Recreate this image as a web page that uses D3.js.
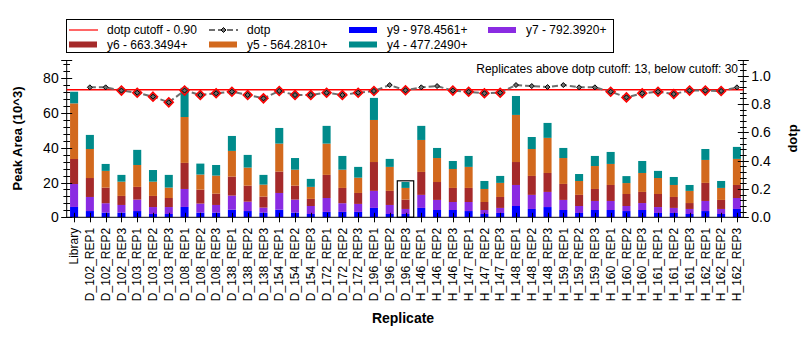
<!DOCTYPE html>
<html><head><meta charset="utf-8">
<script src="https://cdn.jsdelivr.net/npm/d3@7"></script>
<style>body{margin:0;background:#fff}svg{display:block;font-family:Arial,"Liberation Sans",sans-serif}</style>
</head><body><svg id="c" width="812" height="339"></svg>
<script>
const categories = ["Library",
 "D_102_REP1","D_102_REP2","D_102_REP3","D_103_REP1","D_103_REP2","D_103_REP3",
 "D_108_REP1","D_108_REP2","D_108_REP3","D_138_REP1","D_138_REP2","D_138_REP3",
 "D_154_REP1","D_154_REP2","D_154_REP3","D_172_REP1","D_172_REP2","D_172_REP3",
 "D_196_REP1","D_196_REP2","D_196_REP3","H_146_REP1","H_146_REP2","H_146_REP3",
 "H_147_REP1","H_147_REP2","H_147_REP3","H_148_REP1","H_148_REP2","H_148_REP3",
 "H_159_REP1","H_159_REP2","H_159_REP3","H_160_REP1","H_160_REP2","H_160_REP3",
 "H_161_REP1","H_161_REP2","H_161_REP3","H_162_REP1","H_162_REP2","H_162_REP3"];
const y9 = [5.95,3.6,2.7,2.7,3.6,1.9,1.9,5.95,2.7,2.7,4.4,3.6,2.7,4.4,2.7,1.9,3.1,3.1,3.1,5.4,1.9,1.9,5.4,4.2,4.2,3.6,1.9,2.5,6.5,4.8,5.9,4.2,2.5,4.2,4.2,3.6,4.2,2.5,2.5,1.9,3.6,1.9,4.8];
const y7 = [13.2,8.1,5.4,4.4,6.6,4.0,4.0,10.35,5.2,4.4,8.1,5.4,2.9,9.6,7.5,4.6,8.0,5.0,4.6,9.8,5.2,2.9,7.5,5.8,4.6,5.2,2.3,2.9,12.1,8.1,8.7,5.8,4.0,5.2,5.2,2.9,4.0,3.4,2.9,2.9,5.8,2.9,6.3];
const y6 = [14.4,10.9,9.0,5.2,7.3,6.4,5.2,15.0,8.0,6.5,10.9,9.2,6.3,12.3,8.0,4.1,13.3,8.8,6.3,16.6,8.1,5.4,13.2,10.3,8.1,8.1,4.6,6.3,13.2,10.9,10.9,9.2,6.4,6.9,9.2,6.9,6.4,7.5,6.3,3.4,10.4,5.2,7.5];
const y5 = [32.0,16.7,9.6,8.2,12.6,8.2,6.0,26.4,8.7,10.4,14.8,10.4,6.9,16.1,9.2,6.9,18.0,10.5,8.8,24.2,13.8,6.7,18.4,13.8,10.9,12.1,7.5,8.1,27.1,15.5,20.2,14.9,8.0,13.2,12.1,6.3,10.9,9.2,6.9,7.0,13.2,6.9,15.0];
const y4 = [6.7,8.1,4.0,3.9,8.7,6.7,7.3,16.8,6.3,6.1,8.6,7.3,5.6,9.0,6.7,4.6,10.2,7.9,6.2,12.7,4.6,3.4,8.1,5.8,4.6,6.3,4.6,4.0,10.9,6.9,8.6,5.8,4.0,5.8,6.9,4.0,6.9,4.1,4.6,3.4,6.3,4.0,6.9];
const dotp = [null,0.918,0.918,0.895,0.88,0.852,0.812,0.895,0.864,0.876,0.887,0.864,0.84,0.892,0.864,0.864,0.88,0.864,0.88,0.892,0.934,0.897,0.918,0.927,0.895,0.887,0.876,0.88,0.934,0.927,0.92,0.934,0.918,0.918,0.887,0.847,0.876,0.887,0.871,0.895,0.895,0.892,0.918];
const cutoff = 0.90;
const selected = "D_196_REP3";
const seriesNames = ["y9 - 978.4561+","y7 - 792.3920+","y6 - 663.3494+","y5 - 564.2810+","y4 - 477.2490+"];
const seriesColors = ["#0000FF","#8A2BE2","#A52A2A","#D2691E","#008B8B"];
const leftTicks = [0,20,40,60,80];
const rightTicks = [0,0.2,0.4,0.6,0.8,1.0];
const infoText = "Replicates above dotp cutoff: 13, below cutoff: 30";

const svg = d3.select("#c");
const L = 66.7, R = 743.3, T = 60, B = 217.3;
const x = d3.scaleBand().domain(categories).range([L-0.5, R+1.5]).paddingInner(0.49).paddingOuter(0.245);
const yL = d3.scaleLinear().domain([0, 90.5]).range([B, T]);
const yR = d3.scaleLinear().domain([0, 1.111]).range([B, T]);

// stacked bars
const seriesArr = [y9,y7,y6,y5,y4];
const rows = categories.map((c,i)=>{const o={cat:c}; seriesArr.forEach((s,k)=>o["s"+k]=s[i]); return o;});
const stack = d3.stack().keys(["s0","s1","s2","s3","s4"])(rows);
const gb = svg.append("g");
stack.forEach((layer,k)=>{
  gb.selectAll(null).data(layer).join("rect")
    .attr("x", d=>x(d.data.cat)).attr("width", x.bandwidth())
    .attr("y", d=>yL(d[1])).attr("height", d=>yL(d[0])-yL(d[1]))
    .attr("fill", seriesColors[k]);
});
// selection rectangle
{
  const i = categories.indexOf(selected);
  const top = d3.sum(seriesArr, s=>s[i]);
  const cx = x(selected)+x.bandwidth()/2;
  svg.append("rect").attr("x", cx-8.2).attr("y", yL(top)-1.2)
    .attr("width", 16.4).attr("height", B-yL(top)+1.2)
    .attr("fill","none").attr("stroke","#000").attr("stroke-width",1.2);
}

// axes
const ax = svg.append("g").attr("stroke","#000").attr("stroke-width",1);
ax.append("line").attr("x1",L).attr("x2",L).attr("y1",T).attr("y2",B+0.5);
ax.append("line").attr("x1",R).attr("x2",R).attr("y1",T).attr("y2",B+0.5);
ax.append("line").attr("x1",L).attr("x2",R).attr("y1",B).attr("y2",B);
for (let v=0; v<=88; v+=4) {
  const yy = Math.round(yL(v))+0.5;
  const major = v%20===0;
  ax.append("line").attr("x1", L-(major?5.5:3.3)).attr("x2", L+(major?5.5:3.3)).attr("y1",yy).attr("y2",yy);
}
ax.append("line").attr("x1",L-5.5).attr("x2",L+5.5).attr("y1",T+0.5).attr("y2",T+0.5);
for (let v=0; v<=1.1001; v+=0.04) {
  const yy = Math.round(yR(v))+0.5;
  const major = Math.abs(v/0.2 - Math.round(v/0.2))<1e-6;
  ax.append("line").attr("x1", R-(major?5.5:3.3)).attr("x2", R+(major?5.5:3.3)).attr("y1",yy).attr("y2",yy);
}
ax.append("line").attr("x1",R-5.5).attr("x2",R+5.5).attr("y1",T+0.5).attr("y2",T+0.5);
categories.forEach(c=>{
  const cx = Math.round(x(c)+x.bandwidth()/2)+0.5;
  ax.append("line").attr("x1",cx).attr("x2",cx).attr("y1",B-4.5).attr("y2",B+5);
});

// tick labels
svg.append("g").selectAll("text").data(leftTicks).join("text")
  .attr("x", L-8).attr("y", d=>yL(d)).attr("dy","0.36em").attr("text-anchor","end")
  .attr("font-size",14).text(d=>d);
svg.append("g").selectAll("text").data(rightTicks).join("text")
  .attr("x", R+8).attr("y", d=>yR(d)).attr("dy","0.36em").attr("text-anchor","start")
  .attr("font-size",14).text(d=>d3.format(".1f")(d));
svg.append("g").selectAll("text").data(categories).join("text")
  .attr("transform", d=>`translate(${x(d)+x.bandwidth()/2},${B+10.5}) rotate(-90)`)
  .attr("dy","0.35em").attr("text-anchor","end").attr("font-size",12).text(d=>d);

// axis titles
svg.append("text").attr("transform","translate(17,138.5) rotate(-90)").attr("text-anchor","middle")
  .attr("dy","0.35em").attr("font-size",13).attr("font-weight","bold").text("Peak Area (10^3)");
svg.append("text").attr("transform","translate(792,138.5) rotate(-90)").attr("text-anchor","middle")
  .attr("dy","0.35em").attr("font-size",13).attr("font-weight","bold").text("dotp");
svg.append("text").attr("x",403).attr("y",318).attr("dy","0.35em").attr("text-anchor","middle")
  .attr("font-size",14).attr("font-weight","bold").text("Replicate");

// cutoff line
svg.append("line").attr("x1",L).attr("x2",R).attr("y1",yR(cutoff)).attr("y2",yR(cutoff))
  .attr("stroke","#FF0000").attr("stroke-width",1.5);

// dotp line
const pts = categories.map((c,i)=>({c, v:dotp[i]})).filter(d=>d.v!=null);
const line = d3.line().x(d=>x(d.c)+x.bandwidth()/2).y(d=>yR(d.v));
svg.append("path").attr("d",line(pts)).attr("fill","none").attr("stroke","#6E6E6E")
  .attr("stroke-width",2).attr("stroke-dasharray","6,3");
const diamond = r => `M0,${-r}L${r},0L0,${r}L${-r},0Z`;
const gp = svg.append("g");
pts.forEach(d=>{
  const g = gp.append("g").attr("transform",`translate(${x(d.c)+x.bandwidth()/2},${yR(d.v)})`);
  if (d.v < cutoff) g.append("path").attr("d",diamond(4.5)).attr("fill","#6E6E6E").attr("stroke","#FF0000").attr("stroke-width",1.5);
  g.append("path").attr("d",diamond(2.5)).attr("fill","#6E6E6E").attr("stroke","#000").attr("stroke-width",1);
});

// info text
svg.append("text").attr("x",738).attr("y",69).attr("dy","0.35em").attr("text-anchor","end")
  .attr("font-size",12).text(infoText);

// legend
const lg = svg.append("g");
lg.append("rect").attr("x",66.5).attr("y",19.5).attr("width",547).attr("height",33)
  .attr("fill","#fff").attr("stroke","#000").attr("stroke-width",1);
const colX = [69,209,349,488];
const rowY = [30,44.5];
const legItems = [
  {t:"dotp cutoff - 0.90", type:"cut"},
  {t:"dotp", type:"dotp"},
  {t:seriesNames[0], type:"bar", c:seriesColors[0]},
  {t:seriesNames[1], type:"bar", c:seriesColors[1]},
  {t:seriesNames[2], type:"bar", c:seriesColors[2]},
  {t:seriesNames[3], type:"bar", c:seriesColors[3]},
  {t:seriesNames[4], type:"bar", c:seriesColors[4]}
];
legItems.forEach((it,j)=>{
  const cx = colX[j%4], cy = rowY[Math.floor(j/4)];
  if (it.type==="cut") lg.append("line").attr("x1",cx).attr("x2",cx+29).attr("y1",cy).attr("y2",cy).attr("stroke","#FF0000").attr("stroke-width",1.2);
  else if (it.type==="dotp") {
    lg.append("line").attr("x1",cx).attr("x2",cx+29).attr("y1",cy).attr("y2",cy).attr("stroke","#6E6E6E").attr("stroke-width",2).attr("stroke-dasharray","6,3");
    lg.append("path").attr("transform",`translate(${cx+14.5},${cy})`).attr("d",diamond(2.5)).attr("fill","#6E6E6E").attr("stroke","#000");
  } else lg.append("rect").attr("x",cx).attr("y",cy-3).attr("width",28).attr("height",6).attr("fill",it.c);
  lg.append("text").attr("x",cx+38).attr("y",cy).attr("dy","0.35em").attr("font-size",12).text(it.t);
});
</script></body></html>
